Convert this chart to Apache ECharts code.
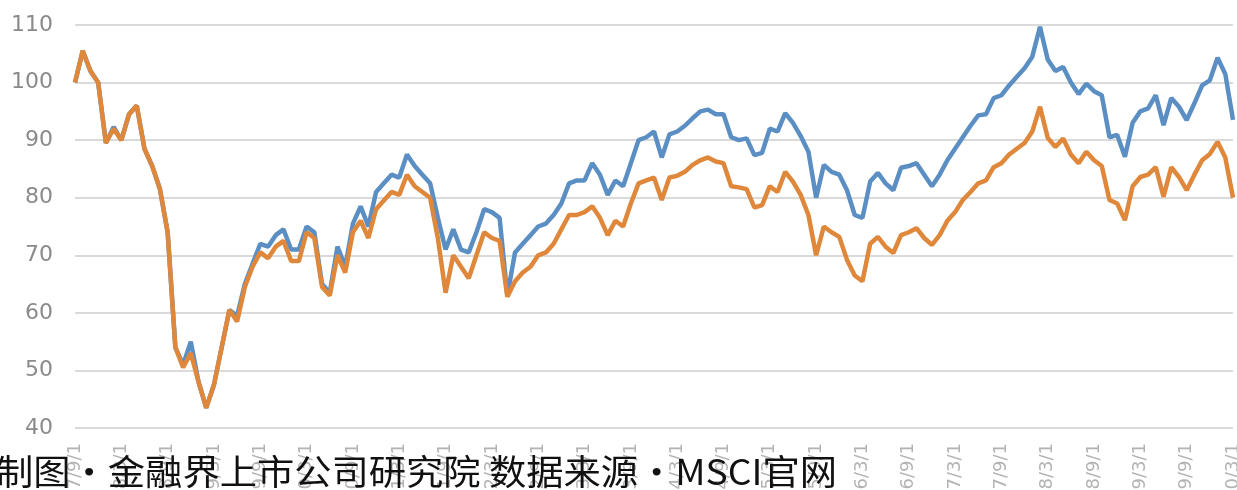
<!DOCTYPE html>
<html>
<head>
<meta charset="utf-8">
<script src="https://cdn.jsdelivr.net/npm/echarts@6/dist/echarts.min.js"></script>
<style>
html,body{margin:0;padding:0;background:#fff;}
#chart{width:1237px;height:490px;}
</style>
</head>
<body>
<div id="chart"></div>
<script>
// Monthly categories, 2007/9/1 .. 2020/3/1
const startYear = 2007, startMonth = 9, pointCount = 151;
const categories = [];
for (let k = 0; k < pointCount; k++) {
  const m = startMonth - 1 + k;
  categories.push((startYear + Math.floor(m / 12)) + '/' + (m % 12 + 1) + '/1');
}

const yTicks = [40, 50, 60, 70, 80, 90, 100, 110];

const seriesBlue = [
  100, 105.5, 102, 100, 89.5, 92.3, 90, 94.5, 96, 88.5,
  85.5, 81.5, 74, 54, 51, 55, 48, 43.5, 47.5, 54,
  60.5, 59.5, 65, 68.5, 72, 71.5, 73.5, 74.5, 71, 71,
  75, 74, 65, 63.5, 71.5, 68, 75.5, 78.5, 75, 81,
  82.5, 84, 83.5, 87.5, 85.5, 84, 82.5, 76.5, 71, 74.5,
  71, 70.5, 74, 78, 77.5, 76.5, 63, 70.5, 72, 73.5,
  75, 75.5, 77, 79, 82.5, 83, 83, 86, 84, 80.5,
  83, 82, 86, 90, 90.5, 91.5, 87, 91, 91.5, 92.5,
  93.8, 95, 95.3, 94.5, 94.5, 90.5, 90, 90.3, 87.4, 87.8,
  92, 91.5, 94.7, 93, 90.7, 88, 80, 85.7, 84.5, 84,
  81.3, 77, 76.5, 82.8, 84.3, 82.5, 81.3, 85.2, 85.5, 86,
  84, 82, 84, 86.5, 88.5, 90.5, 92.5, 94.3, 94.5, 97.3,
  97.8, 99.5, 101, 102.5, 104.5, 109.7, 104, 102, 102.7, 100,
  98, 99.8, 98.5, 97.8, 90.5, 90.9, 87.1, 93, 95, 95.5,
  97.8, 92.6, 97.3, 95.8, 93.5, 96.4, 99.5, 100.4, 104.3, 101.5,
  93.5
];

const seriesOrange = [
  100, 105.5, 102, 100, 89.5, 92, 90, 94.5, 96, 88.5,
  85.5, 81.5, 74, 54, 50.5, 53, 48, 43.5, 47.5, 54,
  60.5, 58.5, 64.5, 68, 70.5, 69.5, 71.5, 72.5, 69, 69,
  74, 73, 64.5, 63, 70, 67, 74, 76, 73, 78,
  79.5, 81, 80.5, 84, 82, 81, 80, 73, 63.5, 70,
  68, 66, 70, 74, 73, 72.5, 62.8, 65.5, 67, 68,
  70, 70.5, 72, 74.5, 77, 77, 77.5, 78.5, 76.5, 73.5,
  76, 75, 79, 82.5, 83, 83.5, 79.6, 83.5, 83.8, 84.5,
  85.7, 86.5, 87, 86.3, 86, 82, 81.8, 81.5, 78.3, 78.7,
  82, 81, 84.5, 82.8, 80.5, 77, 70, 75, 74, 73.2,
  69.2, 66.5, 65.5, 72, 73.2, 71.5, 70.4, 73.5, 74, 74.7,
  73, 71.8, 73.5, 76, 77.5, 79.6, 81, 82.5, 83, 85.3,
  86, 87.5, 88.5, 89.5, 91.5, 95.8, 90.4, 88.8, 90.3, 87.5,
  86, 88, 86.5, 85.5, 79.6, 79, 76.1, 82, 83.6, 84,
  85.3, 80.2, 85.3, 83.6, 81.3, 84, 86.5, 87.6, 89.7, 87,
  80
];

const footnote = '制图·金融界上市公司研究院 数据来源·MSCI官网';

const chart = echarts.init(document.getElementById('chart'), null, {renderer: 'canvas'});
chart.setOption({
  animation: false,
  backgroundColor: '#ffffff',
  grid: {left: 75, right: 4, top: 25, bottom: 62, containLabel: false, outerBoundsMode: 'none'},
  xAxis: {
    type: 'category',
    data: categories,
    boundaryGap: false,
    axisLine: {show: false},
    axisTick: {show: false},
    splitLine: {show: false},
    axisLabel: {
      interval: 5,
      rotate: 90,
      margin: 15,
      fontSize: 18,
      fontFamily: 'DejaVu Sans',
      color: '#b3b3b3',
      hideOverlap: false
    }
  },
  yAxis: {
    type: 'value',
    min: yTicks[0],
    max: yTicks[yTicks.length - 1],
    interval: 10,
    axisLine: {show: false},
    axisTick: {show: false},
    axisLabel: {
      margin: 22,
      fontSize: 22,
      fontFamily: 'DejaVu Sans',
      color: '#8a8a8a'
    },
    splitLine: {lineStyle: {color: '#dadada', width: 2}}
  },
  series: [
    {
      name: 'blue',
      type: 'line',
      data: seriesBlue,
      showSymbol: false,
      symbol: 'none',
      lineStyle: {color: '#5b8fc4', width: 4.5},
      itemStyle: {color: '#5b8fc4'},
      z: 2
    },
    {
      name: 'orange',
      type: 'line',
      data: seriesOrange,
      showSymbol: false,
      symbol: 'none',
      lineStyle: {color: '#df873b', width: 4.5},
      itemStyle: {color: '#df873b'},
      z: 3
    }
  ],
  graphic: [
    {
      type: 'text',
      x: -4,
      y: 472,
      scaleX: 1.065,
      z: 100,
      style: {
        text: footnote,
        fontSize: 35,
        fontFamily: '"Noto Sans CJK SC", sans-serif',
        fill: '#111111',
        align: 'left',
        verticalAlign: 'middle'
      }
    }
  ]
});
</script>
</body>
</html>
